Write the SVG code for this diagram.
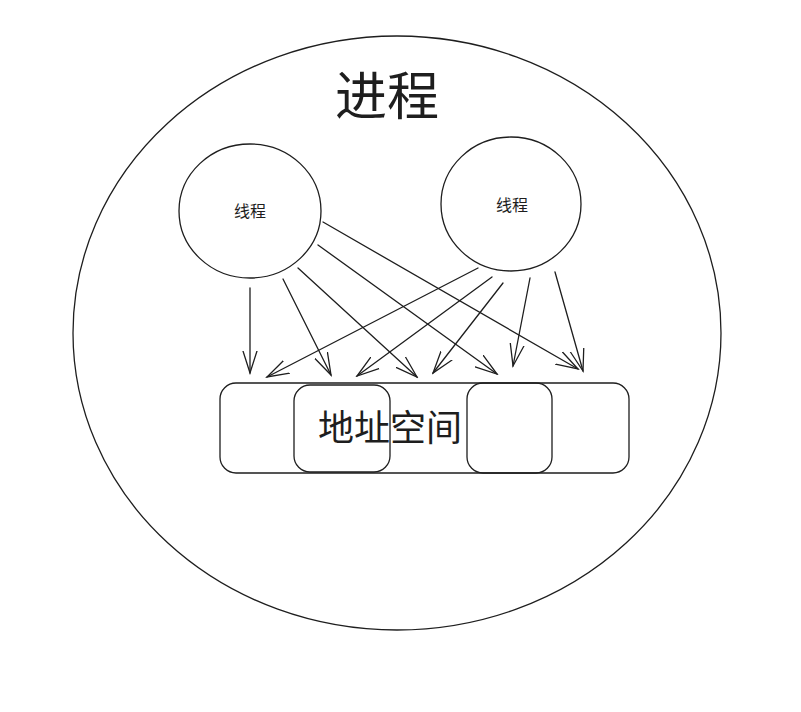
<svg xmlns="http://www.w3.org/2000/svg" width="801" height="712" viewBox="0 0 801 712">
<style>
.s{fill:none;stroke:#1e1e1e;stroke-width:1.3;stroke-linecap:round;stroke-linejoin:round}
.t{font-family:"Liberation Sans","Noto Sans CJK SC",sans-serif;fill:#1e1e1e;text-anchor:middle;dominant-baseline:central}
.a{fill:none;stroke:#1e1e1e;stroke-width:1.3;stroke-linecap:round;marker-end:url(#ah)}
</style>
<defs>
<marker id="ah" viewBox="0 0 24 24" refX="22" refY="12" markerWidth="24" markerHeight="24" markerUnits="userSpaceOnUse" orient="auto">
<path d="M0,5 L22,12 L0,19" fill="none" stroke="#1e1e1e" stroke-width="1.3" stroke-linecap="round"/>
</marker>
</defs>
<rect width="801" height="712" fill="#ffffff"/>
<g id="process">
<ellipse class="s" cx="397" cy="333" rx="324" ry="297"/>
<text class="t" x="387" y="97" font-size="52">进程</text>
</g>
<g id="thread1">
<ellipse class="s" cx="250" cy="211" rx="71" ry="67"/>
<text class="t" x="250" y="211" font-size="16">线程</text>
</g>
<g id="thread2">
<ellipse class="s" cx="511" cy="204" rx="70" ry="67"/>
<text class="t" x="512" y="205" font-size="16">线程</text>
</g>
<g id="address-space">
<rect class="s" x="220" y="383" width="409" height="90" rx="16"/>
<rect class="s" x="294" y="385" width="96" height="87" rx="16"/>
<rect class="s" x="467" y="383" width="85" height="90" rx="16"/>
<text class="t" x="390" y="428" font-size="36">地址空间</text>
</g>
<g id="connectors">
<line class="a" x1="250" y1="288" x2="250" y2="373"/>
<line class="a" x1="283" y1="279" x2="331" y2="375"/>
<line class="a" x1="298" y1="268" x2="417" y2="377"/>
<line class="a" x1="318" y1="245" x2="497" y2="374"/>
<line class="a" x1="323" y1="222" x2="578" y2="369"/>
<line class="a" x1="478" y1="268" x2="267" y2="377"/>
<line class="a" x1="492" y1="277" x2="357" y2="376"/>
<line class="a" x1="503" y1="283" x2="433" y2="373"/>
<line class="a" x1="530" y1="278" x2="513" y2="366"/>
<line class="a" x1="555" y1="272" x2="583" y2="371"/>
</g>
</svg>
